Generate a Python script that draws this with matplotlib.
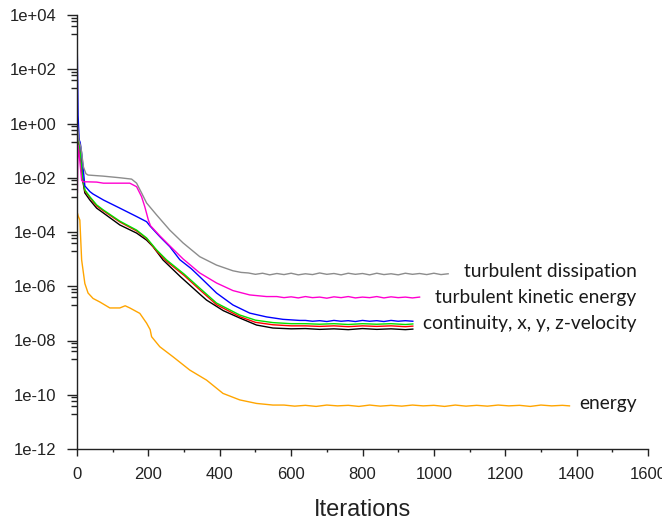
import numpy as np
import matplotlib
matplotlib.use('Agg')
import matplotlib.pyplot as plt
from matplotlib.ticker import FixedLocator, NullFormatter

# residual histories as log10(residual) vs iteration

gray_it = [0, 1, 5, 8, 11, 18, 25, 31, 73, 120, 153, 167, 181, 195, 223, 260, 297, 344, 391, 437,
           460, 480, 500, 520, 540, 560, 580, 600, 620, 640, 660, 680, 700, 720, 740, 760, 780,
           800, 820, 840, 860, 880, 900, 920, 940, 960, 980, 1000, 1020, 1040]
gray_log = [1.16, 0.0, -0.6, -0.75, -0.87, -1.6, -1.85, -1.9, -1.94, -2.0, -2.05, -2.2, -2.56, -2.93,
            -3.37, -3.93, -4.4, -4.91, -5.22, -5.43, -5.49, -5.51, -5.56, -5.52, -5.58, -5.53, -5.57,
            -5.52, -5.58, -5.54, -5.57, -5.51, -5.56, -5.53, -5.58, -5.52, -5.56, -5.53, -5.58,
            -5.52, -5.57, -5.54, -5.58, -5.52, -5.56, -5.53, -5.57, -5.52, -5.57, -5.54]

pink_it = [0, 1, 3, 8, 13, 18, 27, 55, 74, 148, 167, 181, 190, 200, 206, 232, 260, 297, 344, 391,
           437, 484, 531, 560, 580, 600, 620, 640, 660, 680, 700, 720, 740, 760, 780, 800, 820,
           840, 860, 880, 900, 920, 940, 960]
pink_log = [0.02, -2.56, -0.8, -1.4, -2.1, -2.15, -2.15, -2.16, -2.2, -2.2, -2.33, -2.7, -3.07,
            -3.56, -3.77, -4.14, -4.51, -4.99, -5.51, -5.88, -6.16, -6.32, -6.38, -6.38, -6.42,
            -6.39, -6.43, -6.38, -6.42, -6.40, -6.44, -6.39, -6.42, -6.38, -6.43, -6.40, -6.42,
            -6.38, -6.43, -6.39, -6.42, -6.40, -6.43, -6.40]

blue_it = [0, 1, 3, 6, 9, 13, 22, 36, 45, 74, 120, 167, 195, 204, 232, 260, 288, 320, 344, 391,
           437, 484, 531, 577, 624, 640, 660, 680, 700, 720, 740, 760, 780, 800, 820, 840, 860,
           880, 900, 920, 941]
blue_log = [3.48, 2.45, 0.3, -0.6, -0.7, -1.09, -2.3, -2.51, -2.6, -2.82, -3.12, -3.43, -3.62,
            -3.77, -4.17, -4.54, -5.02, -5.35, -5.65, -6.25, -6.69, -6.99, -7.13, -7.22, -7.26,
            -7.26, -7.29, -7.27, -7.30, -7.26, -7.29, -7.27, -7.30, -7.26, -7.29, -7.27, -7.30,
            -7.26, -7.29, -7.27, -7.29]

green_it = [0, 5, 10, 16, 22, 36, 55, 74, 120, 167, 195, 223, 251, 300, 344, 391, 456, 500, 549,
            600, 640, 680, 720, 760, 800, 840, 880, 920, 941]
green_log = [-0.3, -0.6, -1.2, -2.0, -2.45, -2.7, -3.0, -3.19, -3.6, -3.93, -4.22, -4.66, -5.03,
             -5.55, -6.07, -6.62, -7.06, -7.25, -7.34, -7.38, -7.38, -7.40, -7.38, -7.41, -7.38,
             -7.40, -7.38, -7.41, -7.39]

red_it = [0, 5, 10, 16, 22, 36, 55, 74, 120, 167, 195, 223, 251, 300, 344, 391, 456, 500, 549,
          600, 640, 680, 720, 760, 800, 840, 880, 920, 941]
red_log = [-0.3, -0.6, -1.2, -2.0, -2.48, -2.73, -3.04, -3.22, -3.63, -3.96, -4.24, -4.7, -5.08,
           -5.6, -6.13, -6.68, -7.12, -7.33, -7.42, -7.46, -7.46, -7.48, -7.46, -7.49, -7.46,
           -7.48, -7.46, -7.49, -7.47]

black_it = [0, 5, 10, 16, 22, 36, 55, 74, 120, 167, 195, 213, 241, 290, 344, 363, 410, 456, 503,
            549, 600, 640, 680, 720, 760, 800, 840, 880, 920, 941]
black_log = [-0.3, -0.7, -1.3, -2.1, -2.56, -2.82, -3.12, -3.3, -3.74, -4.04, -4.3, -4.54, -5.03,
             -5.65, -6.29, -6.51, -6.9, -7.17, -7.43, -7.54, -7.57, -7.56, -7.59, -7.57, -7.60,
             -7.56, -7.59, -7.57, -7.60, -7.58]

orange_it = [0, 1, 3, 8, 13, 22, 31, 45, 64, 92, 120, 135, 148, 176, 195, 205, 209, 232, 269,
             316, 363, 409, 456, 503, 549, 580, 610, 640, 670, 700, 730, 760, 790, 820, 850, 880,
             910, 940, 970, 1000, 1030, 1060, 1090, 1120, 1150, 1180, 1210, 1240, 1270, 1300,
             1330, 1360, 1380]
orange_log = [-7.1, -3.3, -3.4, -3.56, -5.03, -5.9, -6.25, -6.45, -6.58, -6.8, -6.8, -6.72, -6.8,
              -7.0, -7.36, -7.6, -7.86, -8.23, -8.6, -9.09, -9.46, -9.95, -10.19, -10.32, -10.38,
              -10.38, -10.42, -10.39, -10.43, -10.38, -10.41, -10.39, -10.43, -10.38, -10.42,
              -10.39, -10.42, -10.38, -10.41, -10.39, -10.43, -10.38, -10.42, -10.39, -10.42,
              -10.38, -10.41, -10.39, -10.43, -10.38, -10.41, -10.39, -10.41]

labels = ['turbulent dissipation', 'turbulent kinetic energy', 'continuity, x, y, z-velocity', 'energy']
label_log = [-5.44, -6.40, -7.36, -10.34]

major_exp = [4, 2, 0, -2, -4, -6, -8, -10, -12]
tick_labels = ['1e+04', '1e+02', '1e+00', '1e-02', '1e-04', '1e-06', '1e-08', '1e-10', '1e-12']

fig = plt.figure(figsize=(6.62, 5.22), dpi=100)
ax = fig.add_axes([77/662, 1 - 449/522, (648 - 77)/662, (449 - 15)/522])

series = [
    (black_it, black_log, '#000000'),
    (red_it, red_log, '#ff0000'),
    (green_it, green_log, '#00e000'),
    (blue_it, blue_log, '#0000ff'),
    (orange_it, orange_log, '#ffa500'),
    (gray_it, gray_log, '#8c8c8c'),
    (pink_it, pink_log, '#ff00d0'),
]
for it, lg, col in series:
    ax.plot(it, 10.0 ** np.array(lg), color=col, lw=1.0)

ax.set_yscale('log')
ax.set_xlim(0, 1600)
ax.set_ylim(1e-12, 1e4)

# ticks like the solver's plot window
ax.yaxis.set_major_locator(FixedLocator([10.0 ** e for e in major_exp]))
ax.set_yticklabels(tick_labels)
minors = [f * 10.0 ** e for e in major_exp for f in (0.2, 0.4, 0.6, 0.8)]
ax.yaxis.set_minor_locator(FixedLocator([m for m in minors if m > 1e-12]))
ax.yaxis.set_minor_formatter(NullFormatter())
ax.set_xticks(range(0, 1601, 200))
ax.set_xticks(range(100, 1600, 200), minor=True)

for s in ['top', 'right']:
    ax.spines[s].set_visible(False)
for s in ['left', 'bottom']:
    ax.spines[s].set_linewidth(1.0)
    ax.spines[s].set_color('#222222')

ax.tick_params(axis='y', which='major', length=7, width=1, pad=8, labelsize=12,
               colors='#222222')
ax.tick_params(axis='y', which='minor', length=4.5, width=1, colors='#222222')
ax.tick_params(axis='x', which='major', length=5, width=1, pad=8, labelsize=12,
               colors='#222222')
ax.tick_params(axis='x', which='minor', length=2.5, width=1, colors='#222222')
for t in ax.get_xticklabels() + ax.get_yticklabels():
    t.set_fontfamily('Liberation Sans')

ax.set_xlabel('Iterations', fontsize=17, fontfamily='Liberation Sans', color='#222222',
              labelpad=12)

for txt, lv in zip(labels, label_log):
    ax.text(1568, 10.0 ** lv, txt, ha='right', va='center', fontsize=13.8,
            fontfamily='Lato', color='#1a1a1a')

fig.savefig('out.png', dpi=100)
